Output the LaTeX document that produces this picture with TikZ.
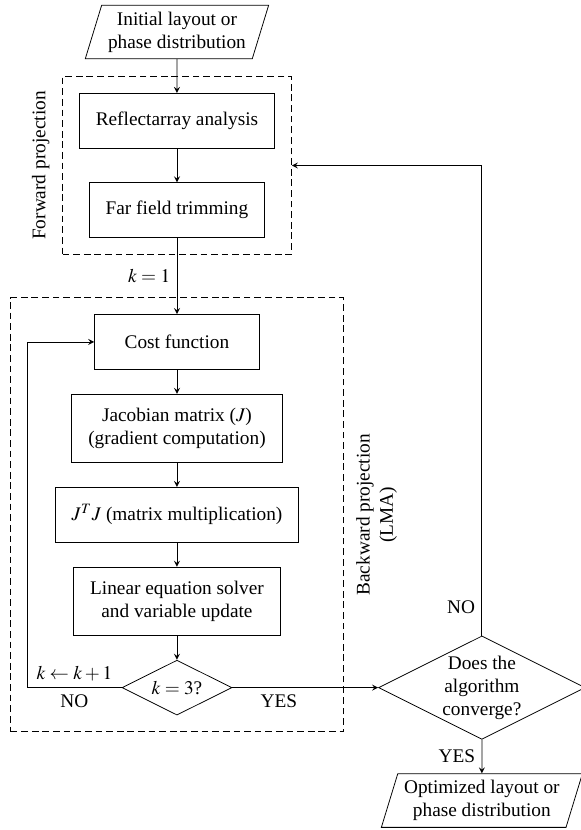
\documentclass[tikz,border=0pt]{standalone}
\usepackage{mathptmx}
\usepackage{fontspec}
\setmainfont{Liberation Serif}
\usetikzlibrary{shapes,arrows,positioning,calc,fit}
\tikzset{
  >=stealth,
  pre/.style      = {<-, thin},
  post/.style     = {->, thin},
  block/.style    = {draw, rectangle, align=center, minimum width=3cm, minimum height=1cm, inner xsep=3mm, inner ysep=2.5mm},
  io/.style       = {draw, trapezium, trapezium left angle=73, trapezium right angle=107, align=center},
  decision/.style = {draw, diamond, aspect=2, align=center, inner sep=0pt},
  group/.style    = {draw, rectangle, dash pattern=on 3.5pt off 2pt, inner sep=8.5pt}
}

\begin{document}
\begin{tikzpicture}
    \useasboundingbox (-91.7pt,16.6pt) rectangle (209.3pt,-413.5pt);
    \node[io] (in) at (0,0) {Initial layout or\\phase distribution};
    \node[block] (refl) [below=17.5pt of in]   {Reflectarray analysis}
    edge [pre] (in);
    \node[block] (far)  [below=17.5pt of refl] {Far field trimming}
    edge [pre] (refl);
    \node[block] (cost) [below=39.4pt of far]  {Cost function};
    \node[block] (jac)  [below=12.5pt of cost] {Jacobian matrix ($J$)\\(gradient computation)}
    edge [pre] (cost);
    \node[block] (jtj)  [below=12.5pt of jac]  {$J^TJ$ (matrix multiplication)}
    edge [pre] (jac);
    \node[block] (lin)  [below=12.5pt of jtj]  {Linear equation solver\\and variable update}
    edge [pre] (jtj);
    \node[decision, minimum width=2cm, minimum height=1cm] (chk) [below=12.5pt of lin] {$k=3$?}
    edge [pre] (lin);
    \node[decision] (conv) [right=75.6pt of chk] {Does the\\algorithm\\converge?};
    \node[io] (out) [below=17.5pt of conv] {Optimized layout or\\phase distribution};

    \coordinate (back)  at ([xshift=-77.7pt]chk.center);
    \coordinate (backr) at ([xshift=77.7pt]chk.center);

    % dashed groups
    \node[group, fit=(refl)(far)] (fwd) {};
    \node[group, fit=(cost)(chk)(back)(backr)] (bwd) {};
    \node[rotate=90, anchor=south] at ([xshift=-3pt]fwd.west) {Forward projection};
    \node[rotate=90, anchor=north, align=center] at ([xshift=3pt]bwd.east) {Backward projection\\(LMA)};

    \draw[post] (far) -- node[left] {$k=1$} (cost);
    \draw[post] (chk.west) -- node[above] {$k\leftarrow k+1$} node[below] {NO} (back) |- (cost.west);
    \draw[post] (chk.east) -- node[below, pos=0.32] {YES} (conv.west);
    \draw[post] (conv.north) |- node[left, pos=0.03] {NO} (fwd.east);
    \draw[post] (conv) -- node[left] {YES} (out);
\end{tikzpicture}
\end{document}
